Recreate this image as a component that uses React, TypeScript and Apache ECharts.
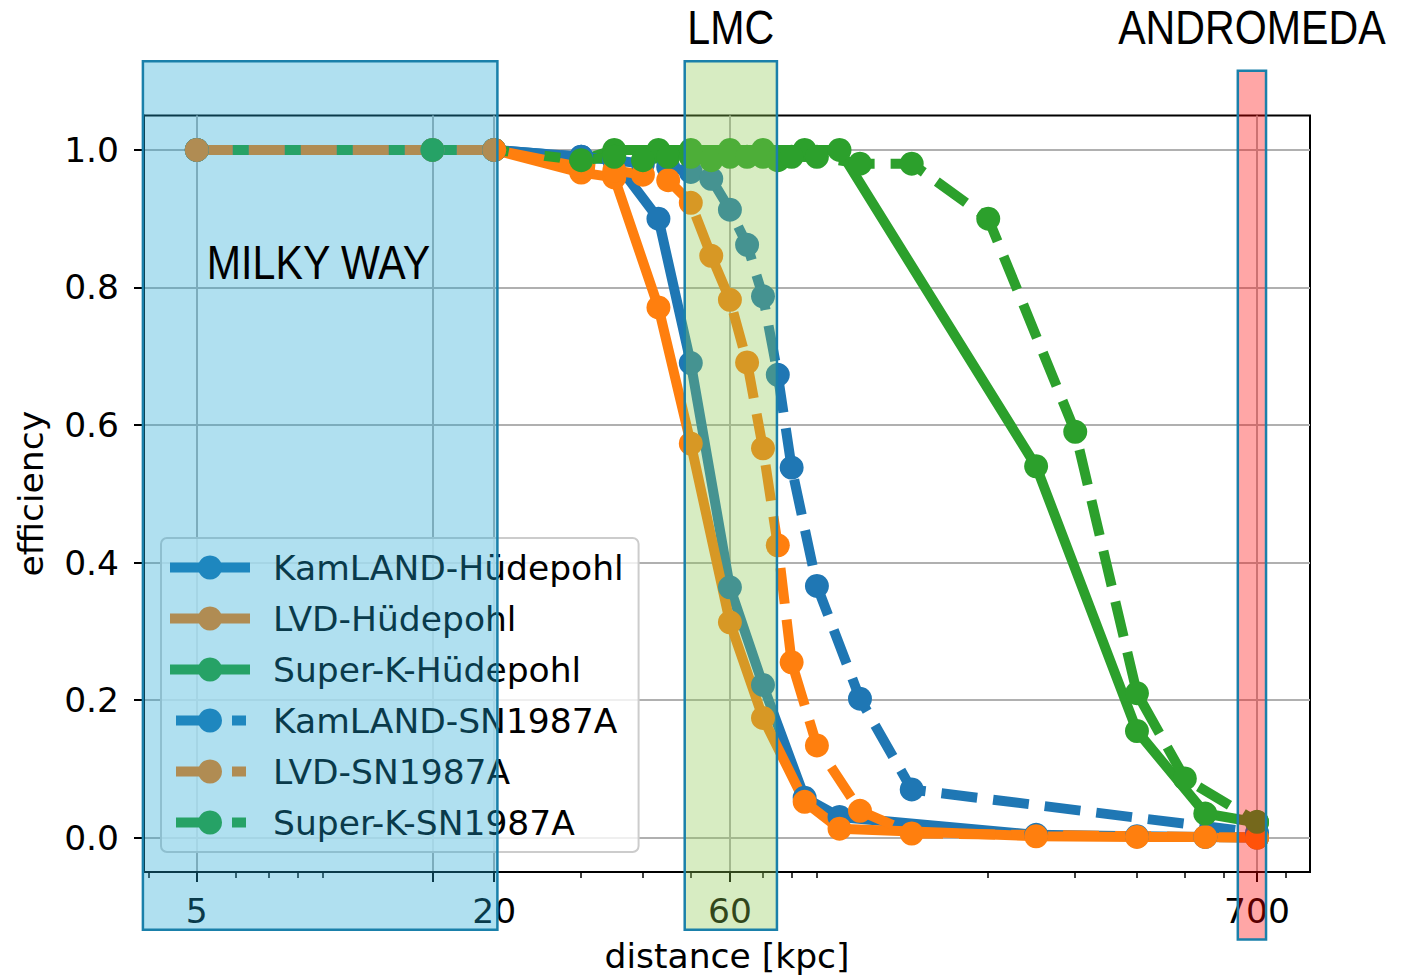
import React, { useEffect, useRef } from 'react';
import * as echarts from 'echarts';

// Distances (kpc) sampled for the Hüdepohl model curves
const hudepohlDist = [5, 15, 20, 30, 35, 43, 50, 60, 70, 85, 100, 250, 400, 550, 700];
const kamlandHudepohl = [1.0, 1.0, 1.0, 0.99, 0.985, 0.9, 0.69, 0.364, 0.222, 0.058, 0.03, 0.004, 0.002, 0.001, 0.0];
const lvdHudepohl = [1.0, 1.0, 1.0, 0.967, 0.96, 0.771, 0.573, 0.313, 0.174, 0.052, 0.013, 0.002, 0.001, 0.001, 0.0];
const superkHudepohl = [1.0, 1.0, 1.0, 0.985, 1.0, 1.0, 1.0, 1.0, 1.0, 1.0, 1.0, 0.54, 0.155, 0.035, 0.022];

// Distances (kpc) sampled for the SN1987A-like curves
const kamlandSnDist = [5, 20, 30, 35, 40, 45, 50, 55, 60, 65, 70, 75, 80, 90, 110, 140, 700];
const kamlandSn = [1.0, 1.0, 0.99, 0.985, 0.98, 0.975, 0.968, 0.958, 0.913, 0.862, 0.787, 0.673, 0.538, 0.366, 0.202, 0.07, 0.007];
const lvdSnDist = [5, 20, 30, 35, 40, 45, 50, 55, 60, 65, 70, 75, 80, 90, 110, 140, 700];
const lvdSn = [1.0, 1.0, 0.975, 0.97, 0.964, 0.956, 0.923, 0.846, 0.782, 0.691, 0.566, 0.425, 0.255, 0.134, 0.039, 0.006, 0.0];
const superkSnDist = [30, 35, 40, 45, 50, 55, 60, 65, 70, 75, 80, 90, 110, 140, 200, 300, 400, 500, 700];
const superkSn = [0.985, 0.99, 0.985, 0.99, 0.99, 0.985, 0.99, 0.99, 0.99, 0.985, 0.99, 0.99, 0.98, 0.98, 0.9, 0.59, 0.21, 0.086, 0.023];

// Axis ticks
const xMajorTicks = [5, 15, 20, 60, 700];
const xTickLabels = [5, 20, 60, 700];
const xMinorTicks = [4, 6, 7, 8, 9, 30, 40, 50, 70, 80, 90, 200, 300, 400, 500, 600, 800];
const yTicks = [0, 0.2, 0.4, 0.6, 0.8, 1.0];

// Highlighted distance ranges (kpc) for the galaxies
const galaxyBands = [
  { label: 'MILKY WAY', from: 3.89, to: 20.3, top: 1.129, bottom: -0.134, fill: 'rgba(29,166,211,0.35)' },
  { label: 'LMC', from: 48.6, to: 74.7, top: 1.129, bottom: -0.134, fill: 'rgba(140,200,80,0.35)' },
  { label: 'ANDROMEDA', from: 640, to: 730, top: 1.115, bottom: -0.148, fill: 'rgba(255,0,0,0.35)' },
];

const BLUE = '#1f77b4';
const ORANGE = '#ff7f0e';
const GREEN = '#2ca02c';
const FONT = 'DejaVu Sans';
const CAPTION_FONT = '"Liberation Sans", Arial, sans-serif';
const SERIES_DASH = [36, 16];
const LEGEND_DASH = [0, 6, 39, 17, 14, 10];

export default function App() {
  const ref = useRef<HTMLDivElement>(null);

  useEffect(() => {
    const el = ref.current;
    if (!el) return;
    const chart = echarts.init(el, undefined, { renderer: 'svg' });

    const pairs = (xs: number[], ys: number[]) => xs.map((x, i) => [x, ys[i]]);
    const makeSeries = (name: string, color: string, xs: number[], ys: number[], dashed: boolean) => ({
      name,
      type: 'line',
      data: pairs(xs, ys),
      symbol: 'circle',
      symbolSize: 24,
      showSymbol: true,
      showAllSymbol: true,
      clip: false,
      silent: true,
      itemStyle: { color },
      lineStyle: { color, width: 10, type: dashed ? SERIES_DASH : 'solid', join: 'round' },
      emphasis: { disabled: true },
    });

    const tickLabel = { fontFamily: FONT, fontSize: 34.5, color: '#000' };
    const legendItem = (name: string, dashed: boolean) => ({
      name,
      lineStyle: { width: 10, type: dashed ? LEGEND_DASH : 'solid' },
    });

    chart.setOption({
      animation: false,
      backgroundColor: '#fff',
      grid: {
        left: 144,
        right: 93,
        top: 115.5,
        bottom: 104.5,
        show: true,
        borderColor: '#000',
        borderWidth: 2,
        backgroundColor: 'transparent',
      },
      xAxis: [
        {
          type: 'log',
          logBase: 10,
          min: 3.91,
          max: 896,
          name: 'distance [kpc]',
          nameLocation: 'middle',
          nameGap: 66,
          nameTextStyle: tickLabel,
          axisLine: { show: true, onZero: false, lineStyle: { color: '#000', width: 2 } },
          axisTick: { show: true, customValues: xMajorTicks, length: 10, lineStyle: { color: '#000', width: 2 } },
          axisLabel: {
            ...tickLabel,
            customValues: xTickLabels,
            margin: 21,
            formatter: (v: number) => String(Math.round(v)),
          },
          splitLine: { show: true, lineStyle: { color: '#b0b0b0', width: 2 } },
          minorTick: { show: false },
        },
        {
          type: 'log',
          logBase: 10,
          min: 3.91,
          max: 896,
          position: 'bottom',
          axisLine: { show: false, onZero: false },
          axisTick: { show: true, customValues: xMinorTicks, length: 6, lineStyle: { color: '#000', width: 1.5 } },
          axisLabel: { show: false },
          splitLine: { show: false },
        },
      ],
      yAxis: {
        type: 'value',
        min: -0.05,
        max: 1.05,
        name: 'efficiency',
        nameLocation: 'middle',
        nameGap: 96,
        nameTextStyle: tickLabel,
        axisLine: { show: true, onZero: false, lineStyle: { color: '#000', width: 2 } },
        axisTick: { show: true, customValues: yTicks, length: 10, lineStyle: { color: '#000', width: 2 } },
        axisLabel: {
          ...tickLabel,
          customValues: yTicks,
          margin: 25,
          formatter: (v: number) => v.toFixed(1),
        },
        splitLine: { show: true, lineStyle: { color: '#b0b0b0', width: 2 } },
      },
      legend: {
        orient: 'vertical',
        left: 161,
        top: 538,
        padding: [12, 15, 12, 4],
        itemWidth: 80,
        itemHeight: 30,
        itemGap: 16,
        backgroundColor: 'rgba(255,255,255,0.8)',
        borderColor: '#cccccc',
        borderWidth: 2,
        borderRadius: 6,
        selectedMode: false,
        lineStyle: { width: 10 },
        textStyle: { fontFamily: FONT, fontSize: 34.5, color: '#000', padding: [0, 0, 0, 18] },
        data: [
          legendItem('KamLAND-Hüdepohl', false),
          legendItem('LVD-Hüdepohl', false),
          legendItem('Super-K-Hüdepohl', false),
          legendItem('KamLAND-SN1987A', true),
          legendItem('LVD-SN1987A', true),
          legendItem('Super-K-SN1987A', true),
        ],
      },
      series: [
        makeSeries('KamLAND-Hüdepohl', BLUE, hudepohlDist, kamlandHudepohl, false),
        makeSeries('LVD-Hüdepohl', ORANGE, hudepohlDist, lvdHudepohl, false),
        makeSeries('Super-K-Hüdepohl', GREEN, hudepohlDist, superkHudepohl, false),
        makeSeries('KamLAND-SN1987A', BLUE, kamlandSnDist, kamlandSn, true),
        makeSeries('LVD-SN1987A', ORANGE, lvdSnDist, lvdSn, true),
        makeSeries('Super-K-SN1987A', GREEN, superkSnDist, superkSn, true),
      ],
    });

    // Shaded galaxy bands and their captions, placed through the axis scales
    const toPx = (x: number, y: number) => chart.convertToPixel({ gridIndex: 0 }, [x, y]) as number[];
    const elements: any[] = [];
    const caption = (text: string, x: number, y: number, align: string) => ({
      type: 'text',
      z: 11,
      silent: true,
      x,
      y,
      scaleX: 0.84,
      style: { text, fontFamily: CAPTION_FONT, fontSize: 49, fill: '#000', textAlign: align, textVerticalAlign: 'middle' },
    });
    galaxyBands.forEach((b) => {
      const p0 = toPx(b.from, b.top);
      const p1 = toPx(b.to, b.bottom);
      elements.push({
        type: 'rect',
        z: 10,
        silent: true,
        shape: { x: p0[0], y: p0[1], width: p1[0] - p0[0], height: p1[1] - p0[1] },
        style: { fill: b.fill, stroke: '#1a80aa', lineWidth: 2.5 },
      });
      if (b.label === 'MILKY WAY') {
        const t = toPx(5.24, 0.837);
        elements.push(caption(b.label, t[0], t[1], 'left'));
      } else {
        elements.push(caption(b.label, (p0[0] + p1[0]) / 2, 27, 'center'));
      }
    });
    chart.setOption({ graphic: elements });

    return () => chart.dispose();
  }, []);

  return <div ref={ref} style={{ position: 'fixed', left: 0, top: 0, width: 1403, height: 978 }} />;
}
